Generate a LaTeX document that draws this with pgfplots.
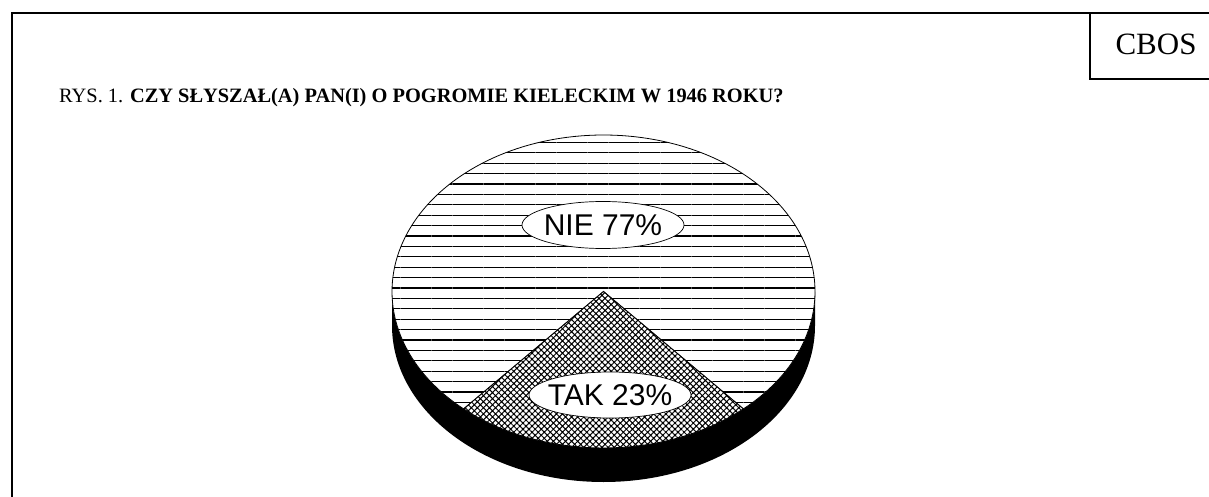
\documentclass[border=0pt]{standalone}
\usepackage{pgfplots}
\pgfplotsset{compat=1.18}
\usepackage{pgfplotstable}
\usetikzlibrary{patterns.meta}
\usepackage{fontspec}
\setmainfont{Liberation Serif}
\newfontfamily\arialf{Liberation Sans}

% data: share in percent
\pgfplotstableread{
label value
TAK 23
NIE 77
}\piedata

\begin{document}
\begin{tikzpicture}
\useasboundingbox (0,0) rectangle (1209pt,496pt);
\pgfplotstablegetelem{0}{value}\of\piedata \let\takval\pgfplotsretval
\pgfplotstablegetelem{1}{value}\of\piedata \let\nieval\pgfplotsretval
\pgfmathsetmacro{\takspan}{3.6*\takval}
\pgfmathsetmacro{\aS}{270-\takspan/2}
\pgfmathsetmacro{\aE}{270+\takspan/2}
\pgfmathsetmacro{\aNE}{\aS+360}
\def\cx{603.5}\def\cy{204.5}\def\rx{211.5}\def\ry{156.5}\def\dep{34}
\pgfmathsetmacro{\cyb}{\cy-\dep}
\pgfmathsetmacro{\xl}{\cx-\rx}
\pgfmathsetmacro{\xr}{\cx+\rx}
\begin{axis}[
  at={(0,0)}, anchor=south west,
  width=1209pt, height=496pt, scale only axis,
  xmin=0, xmax=1209, ymin=0, ymax=496,
  hide axis,
]
% frame
\draw[line width=2pt] (axis cs:11.5,-5) -- (axis cs:11.5,483) -- (axis cs:1215,483);
\draw[line width=2pt] (axis cs:1090,483) -- (axis cs:1090,417) -- (axis cs:1215,417);
\node[font=\fontsize{31}{34}\selectfont] at (axis cs:1156,452) {CBOS};
\node[anchor=base west, inner sep=0pt, font=\fontsize{20.4}{24}\selectfont] at (axis cs:59,393)
  {RYS. 1. \textbf{CZY SŁYSZAŁ(A) PAN(I) O POGROMIE KIELECKIM W 1946 ROKU?}};
% side of the pie
\fill[black] (axis cs:\xl,\cy) -- (axis cs:\xl,\cyb)
  arc[start angle=180, end angle=360, x radius=\rx, y radius=\ry]
  -- (axis cs:\xr,\cy)
  arc[start angle=0, end angle=-180, x radius=\rx, y radius=\ry] -- cycle;
% NIE slice
\path[fill=white] (axis cs:\cx,\cy) -- ++(\aE:\rx pt and \ry pt)
  arc[start angle=\aE, end angle=\aNE, x radius=\rx, y radius=\ry] -- cycle;
\path[pattern={Lines[angle=0, distance=10.4pt, line width=1.1pt]}] (axis cs:\cx,\cy) -- ++(\aE:\rx pt and \ry pt)
  arc[start angle=\aE, end angle=\aNE, x radius=\rx, y radius=\ry] -- cycle;
\draw[line width=0.8pt] (axis cs:\cx,\cy) -- ++(\aE:\rx pt and \ry pt)
  arc[start angle=\aE, end angle=\aNE, x radius=\rx, y radius=\ry] -- cycle;
% TAK slice
\path[fill=white] (axis cs:\cx,\cy) -- ++(\aS:\rx pt and \ry pt)
  arc[start angle=\aS, end angle=\aE, x radius=\rx, y radius=\ry] -- cycle;
\path[pattern={Hatch[angle=45, distance=4.3pt, line width=1pt]}] (axis cs:\cx,\cy) -- ++(\aS:\rx pt and \ry pt)
  arc[start angle=\aS, end angle=\aE, x radius=\rx, y radius=\ry] -- cycle;
\draw[line width=0.9pt] (axis cs:\cx,\cy) -- ++(\aS:\rx pt and \ry pt)
  arc[start angle=\aS, end angle=\aE, x radius=\rx, y radius=\ry] -- cycle;
% labels
\draw[fill=white, line width=0.7pt] (axis cs:603,271) ellipse [x radius=81, y radius=23.5];
\node[font=\arialf\fontsize{30}{32}\selectfont] at (axis cs:603,271) {NIE \nieval\%};
\draw[fill=white, line width=0.7pt] (axis cs:610,101) ellipse [x radius=81, y radius=23];
\node[font=\arialf\fontsize{30}{32}\selectfont] at (axis cs:610,101) {TAK \takval\%};
\end{axis}
\end{tikzpicture}
\end{document}
